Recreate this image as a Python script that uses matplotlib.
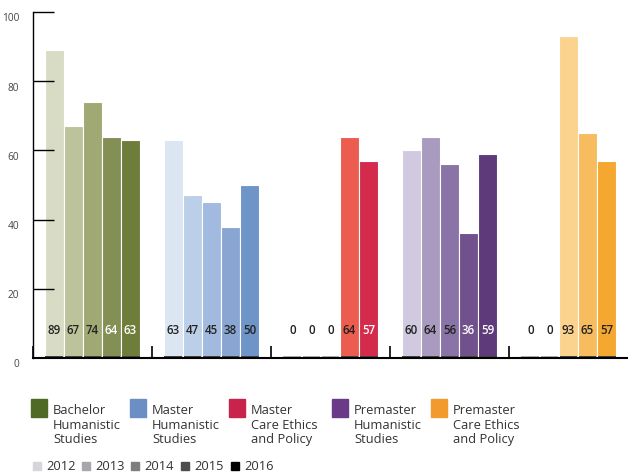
import numpy as np
import matplotlib.pyplot as plt
from matplotlib.patches import Rectangle

plt.rcParams['font.family'] = ['Open Sans', 'DejaVu Sans']

programmes = ['Bachelor\nHumanistic\nStudies', 'Master\nHumanistic\nStudies',
              'Master\nCare Ethics\nand Policy', 'Premaster\nHumanistic\nStudies',
              'Premaster\nCare Ethics\nand Policy']
years = ['2012', '2013', '2014', '2015', '2016']
values = [
    [89, 67, 74, 64, 63],
    [63, 47, 45, 38, 50],
    [0, 0, 0, 64, 57],
    [60, 64, 56, 36, 59],
    [0, 0, 93, 65, 57],
]
y_ticks = [0, 20, 40, 60, 80, 100]
# shades per programme, light (2012) to dark (2016)
shades = [
    ['#d9dcc4', '#bcc29a', '#a0a873', '#838f55', '#6e7d3a'],
    ['#dce6f3', '#bccfe9', '#a2badf', '#89a6d3', '#6f95c8'],
    ['#f0b0a0', '#ec8070', '#ec6e5c', '#ec5c4f', '#d42b4c'],
    ['#d0c9e0', '#a99abf', '#8a73a6', '#71518c', '#5e3a7b'],
    ['#fde4b0', '#fcd89e', '#fbd38e', '#f7bc5e', '#f4a830'],
]
white_label = [
    [0, 0, 0, 1, 1],
    [0, 0, 0, 0, 0],
    [0, 0, 0, 0, 1],
    [0, 0, 0, 1, 1],
    [0, 0, 0, 0, 0],
]
legend_colors = ['#4e6a24', '#6b8fc4', '#c8234a', '#6a3a88', '#f39a2f']
year_greys = ['#d5d6d9', '#a6a7aa', '#7d7e80', '#4b4c4e', '#000000']

fig = plt.figure(figsize=(6.28, 4.75), dpi=100)
ax = fig.add_axes([33 / 628, 117 / 475, 595 / 628, 346 / 475])

bw = 0.16
for g, vals in enumerate(values):
    for i, v in enumerate(vals):
        x = g + 0.1 + bw / 2 + i * bw
        if v > 0:
            ax.bar(x, v, width=bw, color=shades[g][i], edgecolor='white', linewidth=0.8)
            ax.bar(x, 0.5, width=bw - 0.01, color='#444444', linewidth=0)
        else:
            ax.bar(x, 0.5, width=bw - 0.01, color='#b0b0b0', linewidth=0)
        c = 'white' if white_label[g][i] else '#222222'
        ax.text(x, 8, str(v), ha='center', va='center', fontsize=8.3, color=c,
                fontweight='semibold')

ax.set_xlim(0, 5)
ax.set_ylim(0, 100)
ax.spines['top'].set_visible(False)
ax.spines['right'].set_visible(False)
ax.spines['bottom'].set_linewidth(1.5)
ax.spines['left'].set_linewidth(1.0)
ax.set_yticks(y_ticks[1:])
ax.set_yticklabels([])
ax.tick_params(axis='y', direction='in', length=15, width=1)
for t in y_ticks:
    ax.text(-0.117, t - 2, str(t), ha='right', va='center', fontsize=7.3, color='#444444')
ax.set_xticks([0, 1, 2, 3, 4])
ax.set_xticklabels([])
ax.tick_params(axis='x', direction='in', length=9, width=1.2)

# programme legend
lx = [31, 130, 229, 332, 431]
for k in range(5):
    fig.add_artist(Rectangle((lx[k] / 628, (475 - 417) / 475), 16 / 628, 18 / 475,
                             transform=fig.transFigure, color=legend_colors[k]))
    fig.text((lx[k] + 22) / 628, (475 - 404) / 475, programmes[k], ha='left', va='top',
             fontsize=9.3, color='#333333', linespacing=1.16)

# year legend
yx = [33, 82, 131, 181, 231]
for k in range(5):
    fig.add_artist(Rectangle((yx[k] / 628, (475 - 470) / 475), 8 / 628, 8 / 475,
                             transform=fig.transFigure, color=year_greys[k]))
    fig.text((yx[k] + 13) / 628, (475 - 466) / 475, years[k], ha='left', va='center',
             fontsize=9.3, color='#333333')

fig.savefig('out.png', dpi=100)
